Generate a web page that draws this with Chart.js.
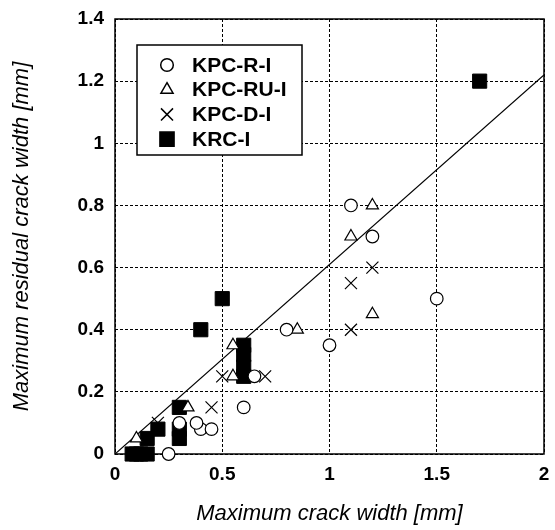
<!DOCTYPE html>
<html>
<head>
<meta charset="utf-8">
<script src="https://cdn.jsdelivr.net/npm/chart.js@4.4.1/dist/chart.umd.min.js"></script>
<style>
  html, body { margin: 0; padding: 0; background: #fff; }
  #wrap { width: 555px; height: 530px; }
</style>
</head>
<body>
<div id="wrap"><canvas id="grafico" width="555" height="530"></canvas></div>
<script>
// Datos
const serieNombres = ['KPC-R-I', 'KPC-RU-I', 'KPC-D-I', 'KRC-I'];

const rX = [1.1, 1.2, 1.5, 1.0, 0.8, 0.6, 0.65, 0.4, 0.45, 0.38, 0.3, 0.25];
const rY = [0.8, 0.7, 0.5, 0.35, 0.4, 0.15, 0.25, 0.08, 0.08, 0.1, 0.1, 0.0];

const ruX = [1.2, 1.1, 1.2, 0.85, 0.55, 0.55, 0.34, 0.1];
const ruY = [0.8, 0.7, 0.45, 0.4, 0.35, 0.25, 0.15, 0.05];

const dX = [1.2, 1.1, 1.1, 0.5, 0.7, 0.45, 0.2];
const dY = [0.6, 0.55, 0.4, 0.25, 0.25, 0.15, 0.1];

const krcX = [1.7, 0.5, 0.4, 0.6, 0.6, 0.6, 0.6, 0.3, 0.3, 0.3, 0.2, 0.15, 0.08, 0.1, 0.12, 0.15];
const krcY = [1.2, 0.5, 0.4, 0.35, 0.32, 0.28, 0.25, 0.15, 0.08, 0.05, 0.08, 0.05, 0.0, 0.0, 0.0, 0.0];

// recta de ajuste
const ajusteX = [0, 2];
const ajusteY = [0, 1.22];

const xTicks = [0, 0.5, 1, 1.5, 2];
const yTicks = [0, 0.2, 0.4, 0.6, 0.8, 1, 1.2, 1.4];

const fuente = "'Liberation Sans', Arial, Helvetica, sans-serif";

function puntos(xs, ys) {
    return xs.map((x, i) => ({ x: x, y: ys[i] }));
}

function fmt(v) {
    return String(+v.toFixed(2));
}

// --- Caja del área de trazado ---
const marcoPlugin = {
    id: 'marco',
    beforeDatasetsDraw(chart) {
        const a = chart.chartArea;
        const ctx = chart.ctx;
        ctx.save();
        ctx.strokeStyle = '#000';
        ctx.lineWidth = 1.5;
        ctx.strokeRect(a.left, a.top, a.right - a.left, a.bottom - a.top);
        ctx.restore();
    }
};

// --- Leyenda con recuadro dentro del gráfico ---
const leyendaPlugin = {
    id: 'leyendaCaja',
    afterDraw(chart) {
        const a = chart.chartArea;
        const ctx = chart.ctx;
        const bx = a.left + 22, by = a.top + 26, bw = 165, bh = 110;
        ctx.save();
        ctx.fillStyle = '#fff';
        ctx.fillRect(bx, by, bw, bh);
        ctx.strokeStyle = '#000';
        ctx.lineWidth = 1.5;
        ctx.strokeRect(bx, by, bw, bh);
        ctx.font = 'bold 21px ' + fuente;
        ctx.textBaseline = 'middle';
        ctx.textAlign = 'left';
        serieNombres.forEach((nombre, i) => {
            const ds = chart.data.datasets[i];
            const y = by + 20 + i * 24.7;
            const px = bx + 30;
            ctx.fillStyle = ds.pointBackgroundColor;
            ctx.strokeStyle = ds.pointBorderColor;
            Chart.helpers.drawPoint(ctx, {
                pointStyle: ds.pointStyle,
                radius: ds.pointRadius,
                borderWidth: ds.pointBorderWidth,
                rotation: 0
            }, px, y);
            ctx.fillStyle = '#000';
            ctx.fillText(nombre, bx + 55, y + 1);
        });
        ctx.restore();
    }
};

const ctx = document.getElementById('grafico').getContext('2d');

new Chart(ctx, {
    type: 'scatter',
    data: {
        datasets: [
            {
                label: serieNombres[0],
                data: puntos(rX, rY),
                pointStyle: 'circle',
                pointRadius: 6.3,
                pointBorderWidth: 1.2,
                pointBorderColor: '#000',
                pointBackgroundColor: '#fff',
                clip: false
            },
            {
                label: serieNombres[1],
                data: puntos(ruX, ruY),
                pointStyle: 'triangle',
                pointRadius: 7,
                pointBorderWidth: 1.2,
                pointBorderColor: '#000',
                pointBackgroundColor: '#fff',
                clip: false
            },
            {
                label: serieNombres[2],
                data: puntos(dX, dY),
                pointStyle: 'crossRot',
                pointRadius: 8.5,
                pointBorderWidth: 1.2,
                pointBorderColor: '#000',
                pointBackgroundColor: '#000',
                clip: false
            },
            {
                label: serieNombres[3],
                data: puntos(krcX, krcY),
                pointStyle: 'rect',
                pointRadius: 10,
                pointBorderWidth: 1,
                pointBorderColor: '#000',
                pointBackgroundColor: '#000',
                clip: false
            },
            {
                type: 'line',
                label: 'ajuste',
                data: puntos(ajusteX, ajusteY),
                borderColor: '#000',
                borderWidth: 1.2,
                pointRadius: 0,
                fill: false,
                tension: 0
            }
        ]
    },
    options: {
        responsive: false,
        devicePixelRatio: 1,
        animation: false,
        layout: { padding: { left: 0, right: 7, top: 19, bottom: 0 } },
        plugins: {
            legend: { display: false },
            tooltip: { enabled: false }
        },
        scales: {
            x: {
                type: 'linear',
                min: 0,
                max: 2,
                afterBuildTicks: ax => { ax.ticks = xTicks.map(v => ({ value: v })); },
                afterFit: ax => { ax.height = 76; ax.paddingRight = 0; ax.paddingLeft = 0; },
                grid: { color: '#000', lineWidth: 1, drawTicks: false },
                border: { display: false, dash: [3, 2] },
                ticks: {
                    color: '#000',
                    padding: 9,
                    maxRotation: 0,
                    font: { family: fuente, size: 19, weight: 'bold' },
                    callback: v => fmt(v)
                },
                title: {
                    display: true,
                    text: 'Maximum crack width [mm]',
                    color: '#000',
                    padding: { top: 0, bottom: 3 },
                    font: { family: fuente, size: 22, style: 'italic' }
                }
            },
            y: {
                type: 'linear',
                min: 0,
                max: 1.4,
                afterBuildTicks: ax => { ax.ticks = yTicks.map(v => ({ value: v })); },
                afterFit: ax => { ax.width = 115; ax.paddingTop = 0; ax.paddingBottom = 0; },
                grid: { color: '#000', lineWidth: 1, drawTicks: false },
                border: { display: false, dash: [3, 2] },
                ticks: {
                    color: '#000',
                    padding: 11,
                    font: { family: fuente, size: 19, weight: 'bold' },
                    callback: v => fmt(v)
                },
                title: {
                    display: true,
                    text: 'Maximum residual crack width [mm]',
                    color: '#000',
                    padding: { top: 9, bottom: 0 },
                    font: { family: fuente, size: 22, style: 'italic' }
                }
            }
        }
    },
    plugins: [marcoPlugin, leyendaPlugin]
});
</script>
</body>
</html>
